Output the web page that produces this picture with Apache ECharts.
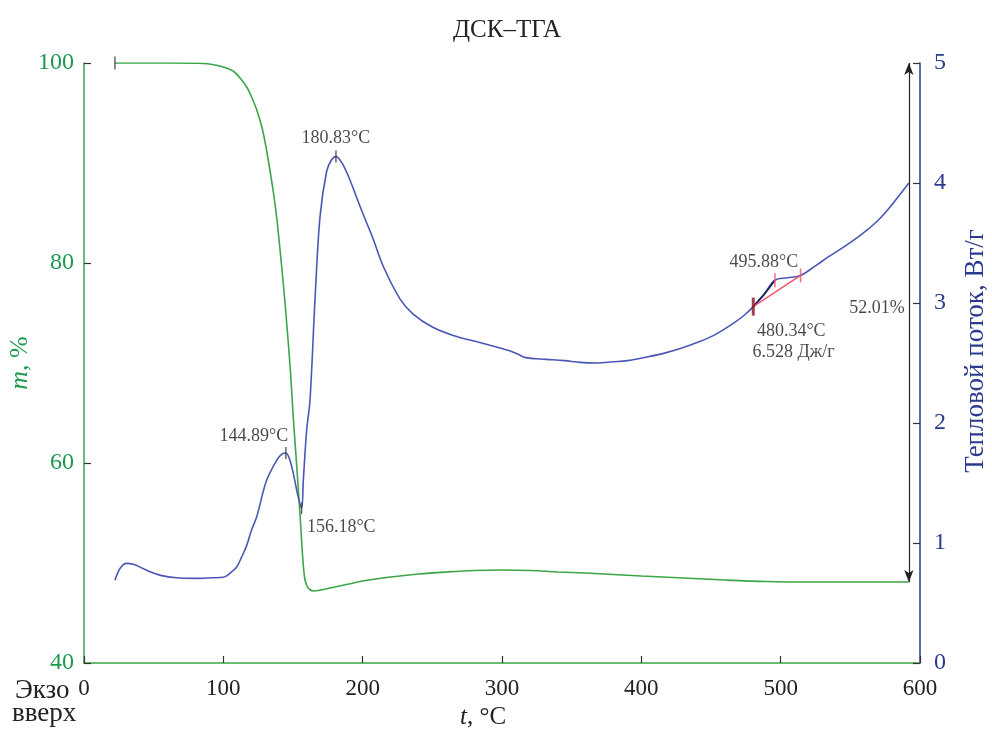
<!DOCTYPE html>
<html>
<head>
<meta charset="utf-8">
<script src="https://cdn.jsdelivr.net/npm/echarts@6/dist/echarts.min.js"></script>
<style>
  html, body { margin: 0; padding: 0; background: #fff; }
  #chart { width: 992px; height: 732px; }
</style>
</head>
<body>
<div id="chart"></div>
<script>
// TGA: mass, %
const tgaT = [22.2, 40, 60, 80, 90, 100, 107, 112, 116.8, 120, 124, 128, 131, 134, 136, 138.5, 140.7, 143, 145, 148, 150, 152, 154, 155.5, 156.5, 157.5, 158.5, 160, 162, 165, 170, 180, 190, 200, 220, 240, 260, 280, 300, 320, 340, 360, 380, 400, 430, 460, 490, 520, 560, 592]
const tgaM = [100, 100, 100, 99.98, 99.9, 99.6, 99.2, 98.5, 97.6, 96.7, 95.3, 93.4, 91.3, 88.8, 87, 84.3, 81.3, 78, 74.8, 69.5, 65, 61, 57, 53.8, 51.5, 49.6, 48.4, 47.7, 47.35, 47.2, 47.3, 47.6, 47.9, 48.2, 48.6, 48.9, 49.1, 49.25, 49.3, 49.25, 49.1, 49.0, 48.85, 48.7, 48.5, 48.3, 48.15, 48.1, 48.1, 48.1]

// DSC: heat flow, W/g
const dscT = [22.2, 26, 30.6, 36, 42, 47.4, 55, 66.5, 80, 92, 100, 105, 109.6, 113, 116.8, 120, 124, 131, 138.3, 142, 144.89, 147.5, 150.2, 153.8, 156.18, 157.4, 159.8, 162.2, 165.8, 169.4, 174.2, 177.5, 180.83, 185, 190, 195, 200, 207, 215, 227, 236, 250, 265, 284, 300, 306, 312, 317, 325, 332, 345, 356, 368, 380, 390, 404, 416, 428, 440, 452, 466, 474, 480.34, 488, 495.88, 505, 514.3, 525, 535, 547, 559, 570, 578.5, 592]
const dscH = [0.69, 0.79, 0.83, 0.82, 0.79, 0.76, 0.73, 0.71, 0.705, 0.71, 0.715, 0.75, 0.8, 0.88, 0.98, 1.1, 1.22, 1.52, 1.69, 1.74, 1.75, 1.7, 1.58, 1.38, 1.29, 1.52, 1.94, 2.19, 3.03, 3.72, 4.1, 4.19, 4.22, 4.17, 4.05, 3.9, 3.75, 3.55, 3.3, 3.03, 2.91, 2.8, 2.73, 2.67, 2.62, 2.6, 2.57, 2.545, 2.535, 2.53, 2.52, 2.505, 2.5, 2.51, 2.52, 2.55, 2.58, 2.62, 2.67, 2.73, 2.83, 2.9, 2.97, 3.07, 3.19, 3.21, 3.23, 3.31, 3.39, 3.48, 3.58, 3.69, 3.8, 4.0]

// transition segment and its baseline
const stepT = [480.34, 488, 495.88]
const stepH = [2.97, 3.07, 3.19]
const baseT = [480.34, 514.3]
const baseH = [2.97, 3.23]

// peak markers
const peakT = [180.83, 144.89, 156.18]
const peakH = [4.22, 1.75, 1.29]
const peakText = ['180.83°C', '144.89°C', '156.18°C']

// mass loss arrow
const lossT = 592
const lossFrom = 100
const lossTo = 48.1
const lossText = '52.01%'

const xTicks = [0, 100, 200, 300, 400, 500, 600]

const GREEN = '#3aa647'
const GREEN_TXT = '#1d9a4e'
const BLUE = '#4b57b5'
const BLUE_TXT = '#2b3a8f'
const DARK = '#333'
const FONT = '"Liberation Serif", "DejaVu Serif", serif'

const zip = (a, b) => a.map((v, i) => [v, b[i]])

const chart = echarts.init(document.getElementById('chart'))

const peakLabelCfg = [
  { position: 'top', distance: 3, offset: [0, 0] },
  { position: 'top', distance: 2, offset: [-32, 0] },
  { position: [6, 16], align: 'left', verticalAlign: 'top' }
]

chart.setOption({
  animation: false,
  title: {
    text: 'ДСК–ТГА',
    left: 502,
    top: 13,
    textAlign: 'center',
    textStyle: { fontFamily: FONT, fontSize: 25, fontWeight: 'normal', color: '#222' }
  },
  grid: { left: 84, right: 72, top: 63, bottom: 69, outerBoundsMode: 'none' },
  xAxis: {
    type: 'value',
    min: xTicks[0],
    max: xTicks[xTicks.length - 1],
    interval: 100,
    name: '{i|t}, °C',
    nameLocation: 'middle',
    nameGap: 39,
    nameTextStyle: {
      fontFamily: FONT, fontSize: 25, color: '#222', padding: [0, 38, 0, 0],
      rich: { i: { fontFamily: FONT, fontSize: 25, fontStyle: 'italic', color: '#222' } }
    },
    axisLine: { lineStyle: { color: GREEN, width: 1.5 } },
    axisTick: { inside: true, length: 7, lineStyle: { color: DARK, width: 1.2 } },
    axisLabel: { margin: 14, fontFamily: FONT, fontSize: 23, color: '#222' },
    splitLine: { show: false }
  },
  yAxis: [
    {
      type: 'value',
      min: 40,
      max: 100,
      interval: 20,
      position: 'left',
      name: '{i|m}, %',
      nameLocation: 'middle',
      nameGap: 51,
      nameMoveOverlap: false,
      nameRotate: 90,
      nameTextStyle: {
        fontFamily: FONT, fontSize: 26, color: GREEN_TXT,
        rich: { i: { fontFamily: FONT, fontSize: 26, fontStyle: 'italic', color: GREEN_TXT } }
      },
      axisLine: { show: true, lineStyle: { color: GREEN, width: 1.5 } },
      axisTick: { show: true, inside: true, length: 7, lineStyle: { color: DARK, width: 1.2 } },
      axisLabel: { margin: 10, fontFamily: FONT, fontSize: 24, color: GREEN_TXT },
      splitLine: { show: false }
    },
    {
      type: 'value',
      min: 0,
      max: 5,
      interval: 1,
      position: 'right',
      name: 'Тепловой поток, Вт/г',
      nameLocation: 'middle',
      nameGap: 42,
      nameRotate: 90,
      nameTextStyle: { fontFamily: FONT, fontSize: 27, color: BLUE_TXT, padding: [0, 0, 0, 24] },
      axisLine: { show: true, lineStyle: { color: BLUE_TXT, width: 1.5 } },
      axisTick: { show: true, inside: true, length: 7, lineStyle: { color: DARK, width: 1.2 } },
      axisLabel: { margin: 14, fontFamily: FONT, fontSize: 24, color: BLUE_TXT },
      splitLine: { show: false }
    }
  ],
  graphic: [
    { type: 'text', left: 15, top: 677, style: { text: 'Экзо', font: '27px ' + FONT, fill: '#222' } },
    { type: 'text', left: 12, top: 700, style: { text: 'вверх', font: '27px ' + FONT, fill: '#222' } }
  ],
  series: [
    {
      name: 'ТГА',
      type: 'line',
      yAxisIndex: 0,
      data: zip(tgaT, tgaM),
      showSymbol: false,
      smooth: 0.35,
      lineStyle: { color: GREEN, width: 1.6 },
      z: 3,
      markLine: {
        silent: true,
        symbol: ['arrow', 'arrow'],
        symbolSize: [7, 12],
        label: { show: false },
        lineStyle: { color: '#222', width: 1.2, type: 'solid' },
        data: [[{ coord: [lossT, lossFrom] }, { coord: [lossT, lossTo] }]]
      }
    },
    {
      name: 'ДСК',
      type: 'line',
      yAxisIndex: 1,
      data: zip(dscT, dscH),
      showSymbol: false,
      smooth: 0.35,
      lineStyle: { color: BLUE, width: 1.6 },
      z: 3
    },
    {
      type: 'line',
      yAxisIndex: 1,
      data: zip(stepT, stepH),
      showSymbol: false,
      lineStyle: { color: '#1c2260', width: 1.8 },
      z: 4
    },
    {
      type: 'line',
      yAxisIndex: 1,
      data: zip(baseT, baseH),
      showSymbol: false,
      lineStyle: { color: '#f0506a', width: 1.3 },
      z: 4
    },
    {
      type: 'scatter',
      yAxisIndex: 1,
      symbol: 'rect',
      symbolSize: [1.6, 14],
      z: 5,
      data: [
        {
          value: [stepT[0], stepH[0]],
          itemStyle: { color: '#8a1020' },
          symbolSize: [3, 18],
          label: {
            show: true, position: 'bottom', distance: 5, offset: [38, 0],
            formatter: '480.34°C\n 6.528 Дж/г', lineHeight: 21, align: 'center'
          }
        },
        {
          value: [stepT[2], stepH[2]],
          itemStyle: { color: '#f0506a' },
          label: { show: true, position: 'top', distance: 2, offset: [-11, 0], formatter: '495.88°C' }
        },
        {
          value: [baseT[1], baseH[1]],
          itemStyle: { color: '#f0506a' },
          label: { show: false }
        }
      ],
      label: { fontFamily: FONT, fontSize: 18, color: '#1a1a1a' }
    },
    {
      type: 'scatter',
      yAxisIndex: 1,
      symbol: 'rect',
      symbolSize: [1.4, 12],
      itemStyle: { color: '#333' },
      z: 5,
      data: peakT.map((t, i) => ({
        value: [t, peakH[i]],
        label: Object.assign({ show: true, formatter: peakText[i] }, peakLabelCfg[i])
      })),
      label: { fontFamily: FONT, fontSize: 18, color: '#1a1a1a' }
    },
    {
      type: 'scatter',
      yAxisIndex: 0,
      symbol: 'rect',
      symbolSize: [1.4, 13],
      itemStyle: { color: '#333' },
      z: 5,
      data: [[tgaT[0], tgaM[0]]]
    },
    {
      type: 'scatter',
      yAxisIndex: 0,
      symbolSize: 0,
      z: 5,
      data: [{
        value: [lossT, 75.5],
        label: { show: true, position: 'left', distance: 4, formatter: lossText }
      }],
      label: { fontFamily: FONT, fontSize: 18, color: '#1a1a1a' }
    }
  ]
})

window.addEventListener('resize', () => chart.resize())
</script>
</body>
</html>
